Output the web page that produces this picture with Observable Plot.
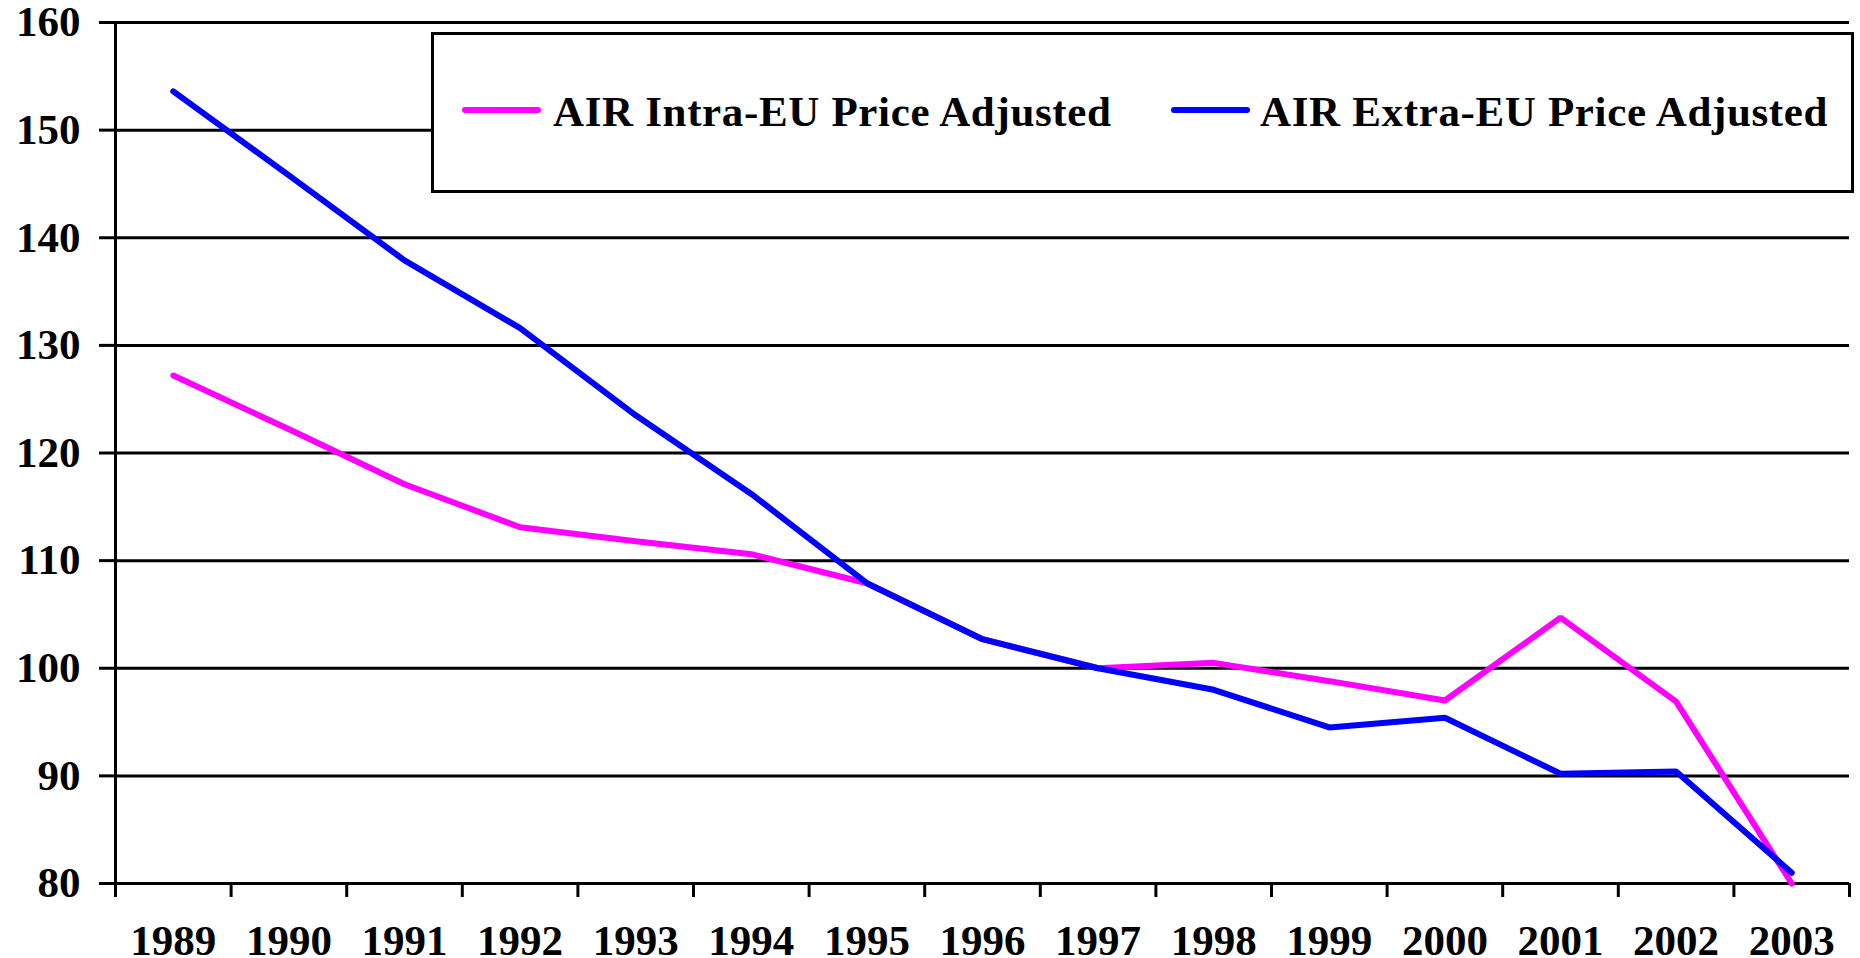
<!DOCTYPE html>
<html>
<head>
<meta charset="utf-8">
<script src="https://cdn.jsdelivr.net/npm/d3@7"></script>
<script src="https://cdn.jsdelivr.net/npm/@observablehq/plot@0.6"></script>
<style>
  html, body { margin: 0; padding: 0; background: #fff; }
  #wrap { position: relative; width: 1860px; height: 958px; overflow: hidden; }
  #legend {
    position: absolute; left: 431px; top: 32px; width: 1423px; height: 161px;
    box-sizing: border-box; border: 3px solid #000; background: #fff;
    font-family: "Liberation Serif", "Times New Roman", serif; font-weight: bold; font-size: 43px;
  }
  .sw { position: absolute; top: 72px; width: 79px; height: 6px; border-radius: 3px; }
  .lt { position: absolute; top: 55px; line-height: 43px; white-space: nowrap; color: #000; letter-spacing: 0.65px; }
</style>
</head>
<body>
<div id="wrap"></div>
<script>
const years = [1989, 1990, 1991, 1992, 1993, 1994, 1995, 1996, 1997, 1998, 1999, 2000, 2001, 2002, 2003];
const intraEU = [127.2, 122.2, 117.1, 113.1, 111.8, 110.6, 107.9, 102.7, 100.0, 100.5, 98.8, 97.0, 104.7, 96.9, 80.0];
const extraEU = [153.6, 145.8, 137.9, 131.6, 123.5, 116.2, 107.9, 102.7, 100.0, 98.0, 94.5, 95.4, 90.2, 90.4, 81.0];
const seriesNames = ["AIR Intra-EU Price Adjusted", "AIR Extra-EU Price Adjusted"];
const seriesColors = ["#ff00ff", "#0000ff"];
const yTicks = [80, 90, 100, 110, 120, 130, 140, 150, 160];

const rows = [];
years.forEach((y, i) => {
  rows.push({year: y, value: intraEU[i], series: seriesNames[0]});
});
years.forEach((y, i) => {
  rows.push({year: y, value: extraEU[i], series: seriesNames[1]});
});
const boundaries = [years[0] - 0.5, ...years.map(y => y + 0.5)];

const chart = Plot.plot({
  width: 1860,
  height: 958,
  marginLeft: 115,
  marginRight: 11,
  marginTop: 22,
  marginBottom: 75,
  style: {fontFamily: "'Liberation Serif', 'Times New Roman', serif", fontWeight: "bold", fontSize: "43px", color: "#000", background: "#fff"},
  x: {domain: [boundaries[0], boundaries[boundaries.length - 1]]},
  y: {domain: [80, 160]},
  color: {domain: seriesNames, range: seriesColors},
  marks: [
    Plot.ruleY(yTicks, {stroke: "#000", strokeWidth: 3}),
    Plot.ruleX([boundaries[0]], {stroke: "#000", strokeWidth: 3}),
    Plot.axisY({ticks: yTicks, tickSize: 16, tickPadding: 19, strokeWidth: 3, label: null, tickFormat: d => String(d)}),
    Plot.axisX({ticks: boundaries, tickSize: 14, strokeWidth: 3, tickFormat: () => "", label: null}),
    Plot.axisX({ticks: years, tickSize: 0, tickPadding: 41, tickFormat: d => String(d), label: null}),
    Plot.line(rows.filter(d => d.series === seriesNames[0]), {x: "year", y: "value", stroke: "series", strokeWidth: 6, strokeLinecap: "round", strokeLinejoin: "miter"}),
    Plot.line(rows.filter(d => d.series === seriesNames[1]), {x: "year", y: "value", stroke: "series", strokeWidth: 6, strokeLinecap: "round", strokeLinejoin: "miter"})
  ]
});
const wrap = document.getElementById("wrap");
wrap.appendChild(chart);

const legend = document.createElement("div");
legend.id = "legend";
const swLeft = [28, 737], txtLeft = [119, 826];
seriesNames.forEach((name, i) => {
  const sw = document.createElement("div");
  sw.className = "sw";
  sw.style.left = swLeft[i] + "px";
  sw.style.background = seriesColors[i];
  legend.appendChild(sw);
  const t = document.createElement("div");
  t.className = "lt";
  t.style.left = txtLeft[i] + "px";
  t.textContent = name;
  legend.appendChild(t);
});
wrap.appendChild(legend);
</script>
</body>
</html>
